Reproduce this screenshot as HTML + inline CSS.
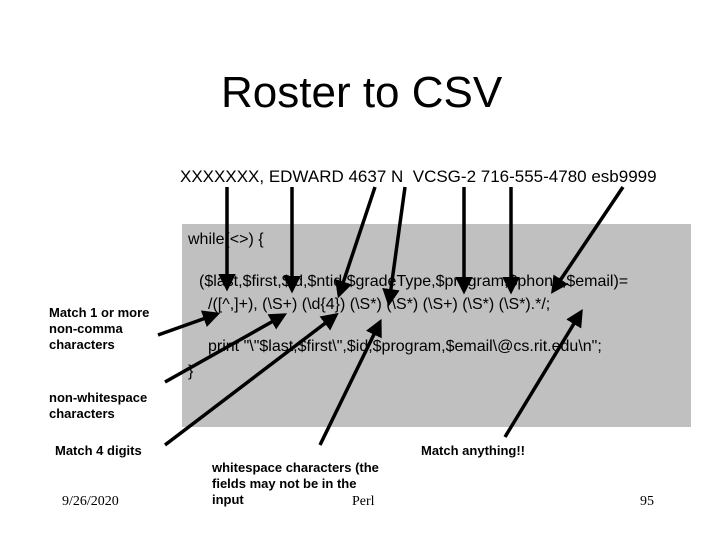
<!DOCTYPE html>
<html><head><meta charset="utf-8"><style>
body{margin:0;width:720px;height:540px;background:#fff;position:relative;overflow:hidden;font-family:"Liberation Sans",sans-serif}
.t{position:absolute;white-space:nowrap;color:#000}
.b{font-weight:bold;font-size:13px;line-height:16px}
.c{font-size:16px}
.f{font-family:"Liberation Serif",serif;font-size:14px}
</style></head><body>
<div style="position:absolute;left:182px;top:224px;width:509px;height:203px;background:#c0c0c0"></div>
<div class="t" style="left:221px;top:68px;font-size:44px">Roster to CSV</div>
<div class="t" style="left:180px;top:167px;font-size:17px">XXXXXXX, EDWARD 4637 N&nbsp; VCSG-2 716-555-4780 esb9999</div>
<div class="t c" style="left:188px;top:231px">while(&lt;&gt;) {</div>
<div class="t c" style="left:199px;top:273px">($last,$first,$id,$ntid,$gradeType,$program,$phone,$email)=</div>
<div class="t c" style="left:208px;top:296px">/([^,]+), (\S+) (\d{4}) (\S*) (\S*) (\S+) (\S*) (\S*).*/;</div>
<div class="t c" style="left:208px;top:338px">print "\"$last,$first\",$id,$program,$email\@cs.rit.edu\n";</div>
<div class="t c" style="left:188px;top:363px">}</div>
<div class="t b" style="left:49px;top:305px">Match 1 or more<br>non-comma<br>characters</div>
<div class="t b" style="left:49px;top:390px">non-whitespace<br>characters</div>
<div class="t b" style="left:55px;top:443px">Match 4 digits</div>
<div class="t b" style="left:212px;top:460px">whitespace characters (the<br>fields may not be in the<br>input</div>
<div class="t b" style="left:421px;top:443px">Match anything!!</div>
<div class="t f" style="left:62px;top:494px">9/26/2020</div>
<div class="t f" style="left:352px;top:494px">Perl</div>
<div class="t f" style="left:640px;top:494px">95</div>
<svg width="720" height="540" style="position:absolute;left:0;top:0">
<defs><marker id="a" markerWidth="5" markerHeight="5" refX="4" refY="2.5" orient="auto"><path d="M0,0L5,2.5L0,5z" fill="#000"/></marker></defs>
<g stroke="#000" stroke-width="3.5" marker-end="url(#a)">
<line x1="227" y1="187" x2="227" y2="288"/>
<line x1="292" y1="187" x2="292" y2="290"/>
<line x1="375" y1="187" x2="339" y2="295"/>
<line x1="405" y1="187" x2="389" y2="303"/>
<line x1="464" y1="187" x2="464" y2="291"/>
<line x1="511" y1="187" x2="511" y2="291"/>
<line x1="623" y1="187" x2="553" y2="291"/>
<line x1="158" y1="335" x2="217" y2="314"/>
<line x1="165" y1="382" x2="284" y2="315"/>
<line x1="165" y1="445" x2="336" y2="315"/>
<line x1="320" y1="445" x2="380" y2="322"/>
<line x1="505" y1="437" x2="581" y2="312"/>
</g></svg>
</body></html>
